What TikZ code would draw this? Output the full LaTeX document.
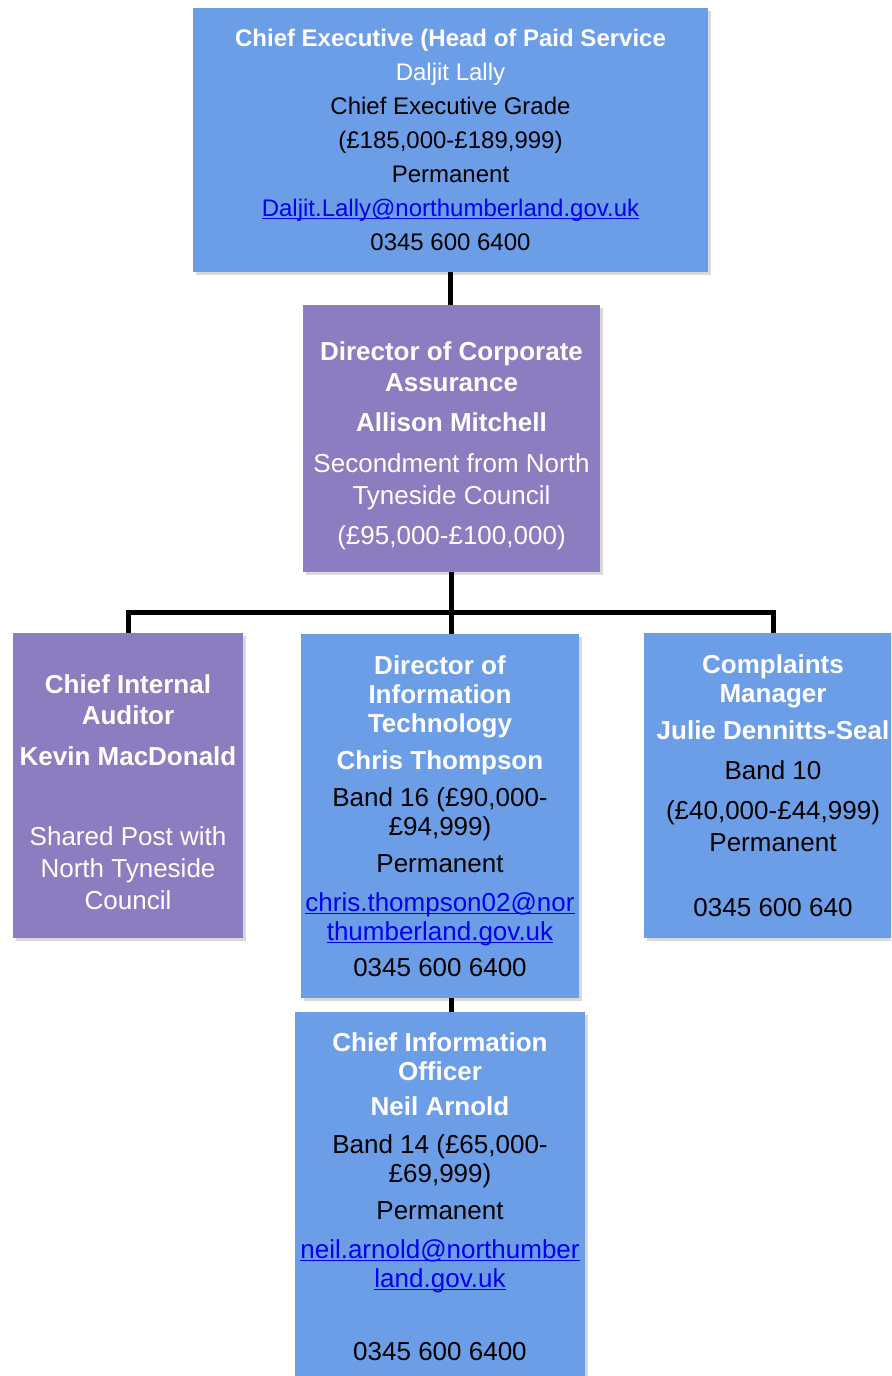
\documentclass[tikz,border=0pt]{standalone}
\usepackage{fontspec}
\setmainfont{Liberation Sans}
\usetikzlibrary{shadows}
\usepackage{xcolor}

\definecolor{postblue}{RGB}{108,158,232}
\definecolor{postpurple}{RGB}{139,125,192}
\definecolor{maillink}{RGB}{0,0,238}
\newcommand{\ttl}[1]{\textcolor{white}{\textbf{#1}}}
\newcommand{\mailto}[1]{\textcolor{maillink}{\setbox0\hbox{#1}%
  \rlap{\rule[-1.3pt]{\wd0}{0.6pt}}\box0}}
\newcommand{\topstrut}{\rule{0pt}{16.5pt}}

\begin{document}
\begin{tikzpicture}[x=0.5pt,y=-0.5pt,
  bluepost/.style={fill=postblue,inner sep=1pt,
    drop shadow={shadow xshift=1.5pt,shadow yshift=-1.5pt,opacity=.3},
    font=\fontsize{13}{14.5}\selectfont},
  purplepost/.style={bluepost,fill=postpurple,text=white,
    font=\fontsize{13}{15.5}\selectfont},
  link/.style={line width=2.5pt},
  every node/.style={align=center}]

  \useasboundingbox (0,0) rectangle (891,1376);
  \clip (0,0) rectangle (891,1376);

  \node[bluepost,font=\fontsize{12}{17}\selectfont,
    minimum width=257.5pt,minimum height=132pt] (ceo) at (450.5,140)
    {\ttl{Chief Executive (Head of Paid Service}\\
     \textcolor{white}{Daljit Lally}\\
     Chief Executive Grade\\
     (£185,000-£189,999)\\
     Permanent\\
     \mailto{Daljit.Lally@northumberland.gov.uk}\\
     0345 600 6400};
  \node[purplepost,minimum width=148.5pt,minimum height=133.5pt] (dca) at (451.5,438.5)
    {\topstrut\textbf{Director of Corporate}\\
     \textbf{Assurance}\\[4.5pt]
     \textbf{Allison Mitchell}\\[5pt]
     Secondment from North\\[0.5pt]
     Tyneside Council\\[4.5pt]
     (£95,000-£100,000)};

  \node[purplepost,minimum width=115pt,minimum height=152.5pt] (cia) at (128,785.5)
    {\topstrut\textbf{Chief Internal}\\
     \textbf{Auditor}\\[5pt]
     \textbf{Kevin MacDonald}\\[24.5pt]
     Shared Post with\\[0.5pt]
     North Tyneside\\[0.5pt]
     Council};
  \node[bluepost,minimum width=139pt,minimum height=182pt] (dit) at (440,816)
    {\ttl{Director of}\\
     \ttl{Information}\\
     \ttl{Technology}\\[4pt]
     \ttl{Chris Thompson}\\[4pt]
     Band 16 (£90,000-\\
     £94,999)\\[4pt]
     Permanent\\[5pt]
     \mailto{chris.thompson02@nor}\\
     \mailto{thumberland.gov.uk}\\[3.5pt]
     0345 600 6400};
  \node[bluepost,minimum width=129pt,minimum height=152.5pt] (cm) at (773,785.5)
    {\ttl{Complaints}\\
     \ttl{Manager}\\[4pt]
     \ttl{Julie Dennitts-Seal}\\[5.5pt]
     Band 10\\[5.5pt]
     (£40,000-£44,999)\\[1.5pt]
     Permanent\\[18pt]
     0345 600 640};

  \node[bluepost,minimum width=145pt,minimum height=185pt] (cio) at (440,1197)
    {\ttl{Chief Information}\\
     \ttl{Officer}\\[3pt]
     \ttl{Neil Arnold}\\[4.5pt]
     Band 14 (£65,000-\\
     £69,999)\\[4pt]
     Permanent\\[5pt]
     \mailto{neil.arnold@northumber}\\
     \mailto{land.gov.uk}\\[22pt]
     0345 600 6400};

  \coordinate (bar) at ([yshift=-20pt]dca.south);
  \draw[link] (ceo.south) -- (ceo.south |- dca.north);
  \draw[link] (dca.south) -- (dca.south |- dit.north);
  \draw[link] (cia.north) |- (bar) -| (cm.north);
  \draw[link] (dca.south |- dit.south) -- (dca.south |- cio.north);
\end{tikzpicture}
\end{document}
